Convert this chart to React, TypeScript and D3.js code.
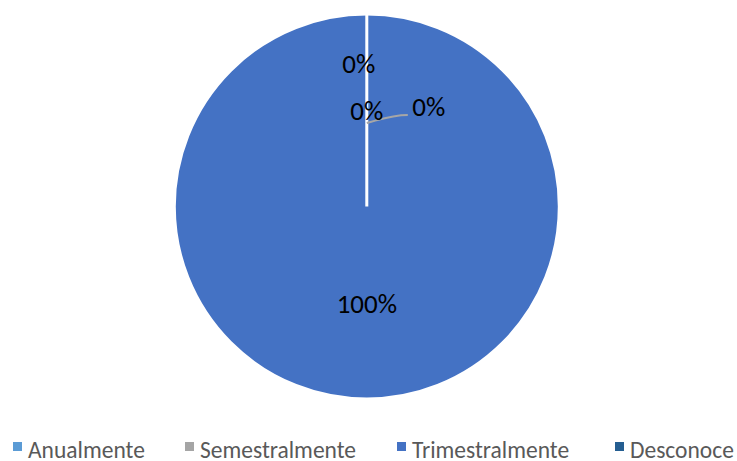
import React from "react";
import * as d3 from "d3";

const categories = ["Anualmente", "Semestralmente", "Trimestralmente", "Desconoce"];
const values = [0, 0, 100, 0];
const colors = ["#5B9BD5", "#A5A5A5", "#4472C4", "#255E91"];

const W = 737, H = 461;
const cx = 366.8, cy = 206.5, R = 192.5;
// label placement offsets (Excel best-fit), relative to pie center
const labelOffsets = [
  { dx: -8, dy: -133.5 },
  { dx: 0, dy: -86.5 },
  { dx: 62, dy: -90.5 },
];
const legendX = [13, 185, 397, 615];

export default function App() {
  const total = d3.sum(values);
  const pie = d3.pie<number>().sort(null).value((d) => d)(values);
  const arc = d3.arc<d3.PieArcDatum<number>>().innerRadius(0).outerRadius(R);
  const fmt = (v: number) => `${Math.round((v / total) * 100)}%`;
  const zeroIdx = values.map((v, i) => (v === 0 ? i : -1)).filter((i) => i >= 0);
  return (
    <svg width={W} height={H} style={{ position: "absolute", left: 0, top: 0, background: "#fff" }}
      fontFamily="Carlito, Lato, 'Open Sans', sans-serif">
      <g transform={`translate(${cx},${cy})`}>
        {pie.map((p, i) => (
          <path key={i} d={arc(p) || ""} fill={colors[i]} stroke="#fff" strokeWidth={3} />
        ))}
        <path d="M0,-83.5 C 15,-87.5 25,-91.5 41,-91.5" fill="none" stroke="#A6A6A6" strokeWidth={2} />
        {zeroIdx.map((idx, k) => (
          <text key={idx} x={labelOffsets[k].dx} y={labelOffsets[k].dy} textAnchor="middle"
            fontSize={27} fill="#000">{fmt(values[idx])}</text>
        ))}
        {pie.filter((p) => p.value > 0).map((p, i) => {
          const [x, y] = arc.centroid(p);
          return (
            <text key={"b" + i} x={x} y={y + 10} textAnchor="middle" fontSize={27} fill="#000">
              {fmt(p.value)}
            </text>
          );
        })}
      </g>
      {categories.map((c, i) => (
        <g key={c} transform={`translate(${legendX[i]},447)`}>
          <rect x={0} y={-5} width={9} height={9} fill={colors[i]} />
          <text x={15} y={11} fontSize={23.5} fill="#595959">{c}</text>
        </g>
      ))}
    </svg>
  );
}
